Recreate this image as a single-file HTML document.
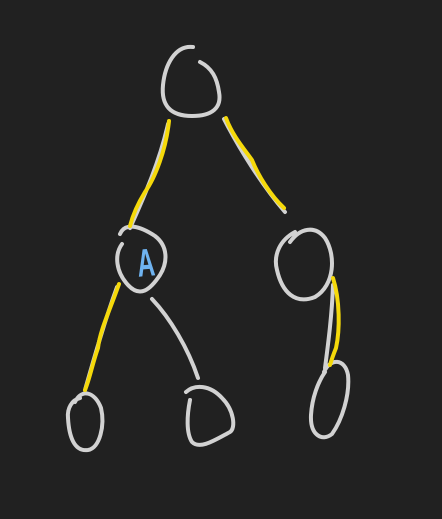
<!DOCTYPE html>
<html><head><meta charset="utf-8"><style>
html,body{margin:0;padding:0;background:#212121;}
svg{display:block}
</style></head><body>
<svg width="442" height="519" viewBox="0 0 442 519">
<rect width="442" height="519" fill="#212121"/>
<g fill="none" stroke="#d2d2d2" stroke-width="4" stroke-linecap="round" stroke-linejoin="round">
  <path d="M193,47 C175,45 165,65 163,85 C161,105 170,116 192,116 C212,116 222,108 219,92 C217,78 212,68 200,62"/>
  <path d="M168,124 C160,160 145,195 130,228"/>
  <path d="M224,119 C240,150 262,185 285,212"/>
  <path d="M120,234 C125,222 140,226 155,236 C168,246 168,262 160,275 C150,290 140,298 128,285 C116,272 114,255 122,244"/>
  <path d="M290,242 C300,228 315,225 325,238 C336,255 335,285 315,297 C295,305 282,292 277,270 C273,255 280,240 295,232"/>
  <path d="M117,287 C105,320 95,355 85,390"/>
  <path d="M152,299 C170,318 188,348 198,378"/>
  <path d="M333,285 C332,315 328,345 325,368"/>
  <path d="M75,402 C82,388 95,392 101,408 C105,425 100,448 88,450 C74,452 69,436 68,418 C67,408 72,400 80,398"/>
  <path d="M186,392 C195,384 210,385 222,398 C234,410 236,428 230,432 C215,440 200,450 192,442 C186,433 187,415 190,400"/>
  <path d="M324,372 C330,358 345,358 348,375 C350,395 342,420 332,434 C322,442 310,435 311,415 C312,398 318,382 325,372"/>
</g>
<g fill="none" stroke="#f5d90a" stroke-width="4" stroke-linecap="round" stroke-linejoin="round">
  <path d="M169,121 C166,150 155,178 145,192 C137,205 132,218 130,226"/>
  <path d="M226,118 C232,135 245,150 252,160 C258,175 270,195 284,208"/>
  <path d="M119,284 C110,310 100,330 98,348 C92,365 90,378 85,390"/>
  <path d="M333,278 C340,300 340,330 336,348 C332,358 330,365 330,365"/>
</g>
<text x="0" y="0" text-anchor="middle" font-family="Liberation Sans, sans-serif" font-weight="bold" font-size="34" fill="#6fb3f0" transform="translate(147,276) rotate(-5) scale(0.72,1.15)">A</text>
</svg>
</body></html>
